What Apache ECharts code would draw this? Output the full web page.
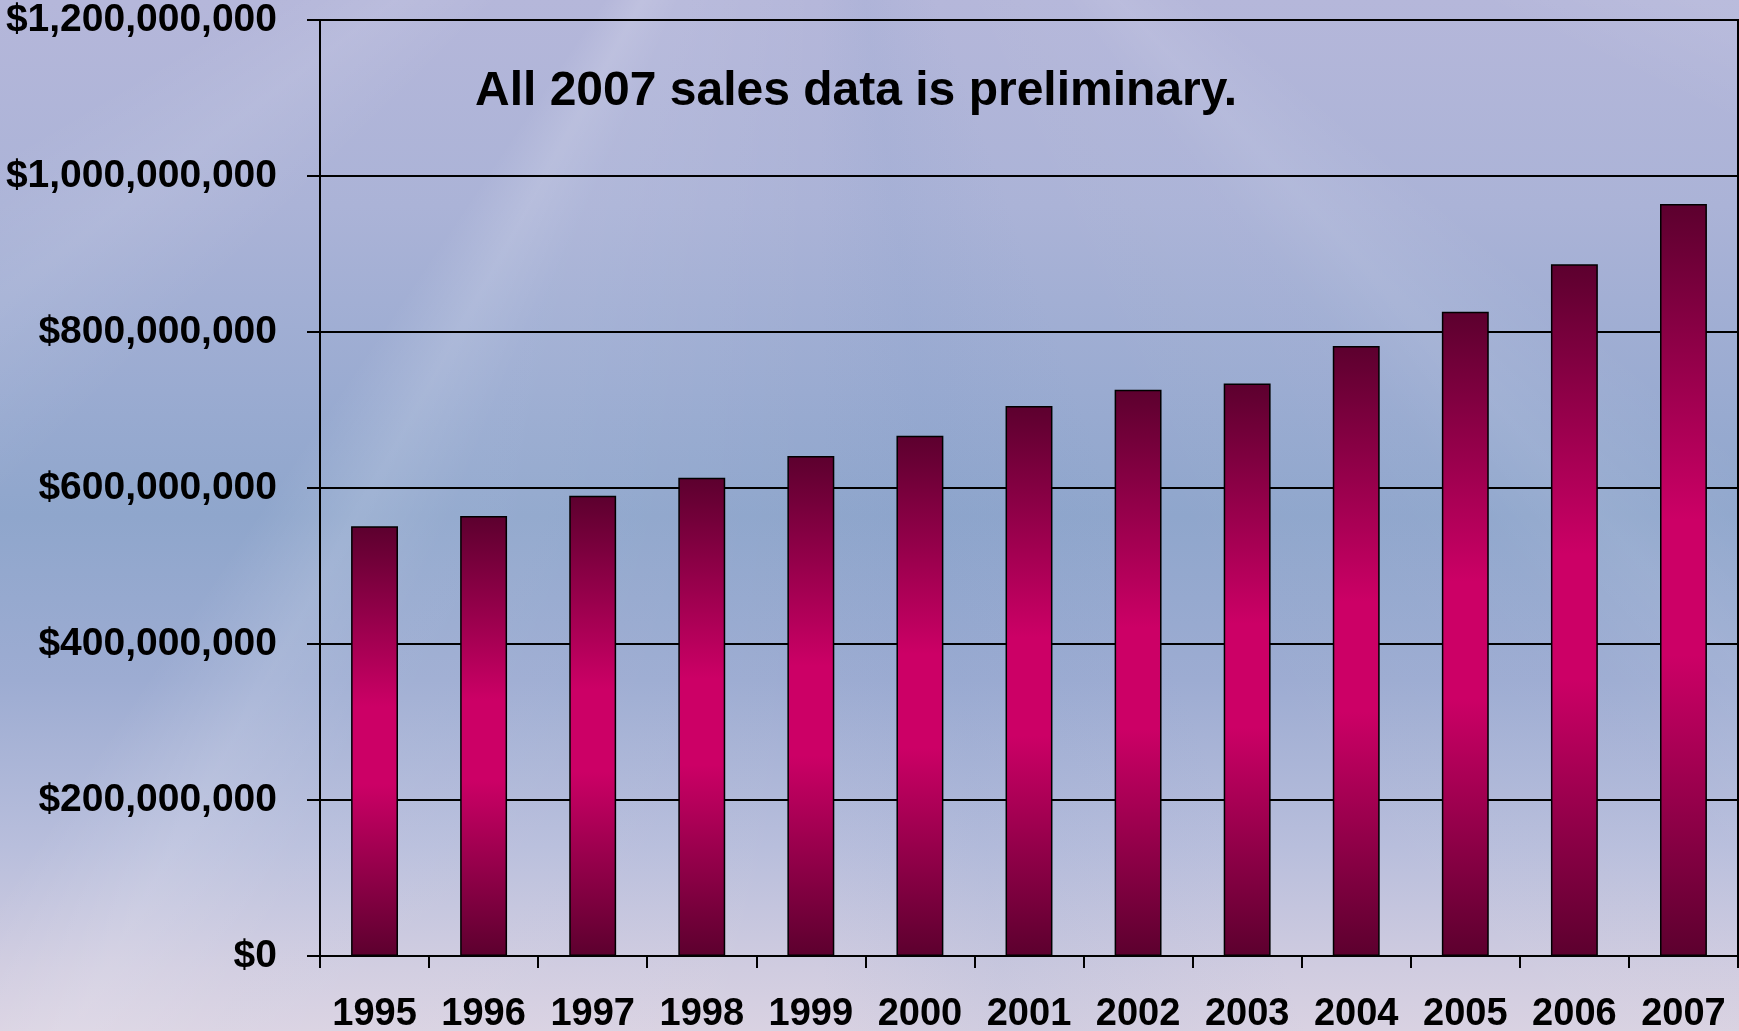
<!DOCTYPE html>
<html>
<head>
<meta charset="utf-8">
<script src="https://cdn.jsdelivr.net/npm/echarts@6/dist/echarts.min.js"></script>
<style>
html, body { margin: 0; padding: 0; width: 1739px; height: 1031px; overflow: hidden; }
#bg {
  position: absolute; left: 0; top: 0; width: 1739px; height: 1031px;
  background:
    conic-gradient(from 90deg at 820px -320px,
      rgba(255,255,255,0) 0deg,
      rgba(255,255,255,0.07) 20deg, rgba(255,255,255,0) 26deg,
      rgba(255,255,255,0) 40deg,
      rgba(255,255,255,0.08) 47deg, rgba(255,255,255,0.02) 52deg,
      rgba(255,255,255,0) 70deg,
      rgba(120,150,200,0.10) 82deg, rgba(120,150,200,0) 90deg,
      rgba(255,255,255,0.06) 114deg, rgba(255,255,255,0.14) 119deg, rgba(255,255,255,0) 124deg,
      rgba(255,255,255,0) 135deg,
      rgba(255,255,255,0.08) 143deg, rgba(255,255,255,0) 150deg,
      rgba(255,255,255,0) 360deg),
    linear-gradient(to bottom,
      #b5b7da 0%, #abb3d7 20%, #9aabd1 38%, #8fa6cc 50%,
      #9dacd2 66%, #b8bedc 82%, #d0cce0 94%, #d9d2e2 100%);
}
#chart { position: absolute; left: 0; top: 0; width: 1739px; height: 1031px; }
</style>
</head>
<body>
<div id="bg"></div>
<div id="chart"></div>
<script>
// ---- data ----
const years = ['1995','1996','1997','1998','1999','2000','2001','2002','2003','2004','2005','2006','2007'];
const sales = [551000000, 564000000, 590000000, 613000000, 641000000, 667000000, 705000000,
               726000000, 734000000, 782000000, 826000000, 887000000, 964000000];
const yTicks = [0, 200000000, 400000000, 600000000, 800000000, 1000000000, 1200000000];
const note = 'All 2007 sales data is preliminary.';

const FONT = '"Liberation Sans", Arial, Helvetica, sans-serif';

const chart = echarts.init(document.getElementById('chart'), null, { renderer: 'canvas' });

chart.setOption({
  backgroundColor: 'transparent',
  animation: false,
  grid: {
    left: 320, right: 1, top: 20, bottom: 75,
    containLabel: false,
    outerBoundsMode: 'none',
    show: true, borderColor: '#000', borderWidth: 2, backgroundColor: 'transparent'
  },
  xAxis: {
    type: 'category',
    data: years,
    axisLine: { show: true, lineStyle: { color: '#000', width: 2 } },
    axisTick: { show: true, length: 12, lineStyle: { color: '#000', width: 2 } },
    axisLabel: {
      color: '#000', fontSize: 38, fontWeight: 'bold', fontFamily: FONT,
      margin: 40, interval: 0
    },
    splitLine: { show: false }
  },
  yAxis: {
    type: 'value',
    min: yTicks[0],
    max: yTicks[yTicks.length - 1],
    interval: yTicks[1] - yTicks[0],
    axisLine: { show: true, lineStyle: { color: '#000', width: 2 } },
    axisTick: { show: true, length: 13, lineStyle: { color: '#000', width: 2 } },
    axisLabel: {
      color: '#000', fontSize: 39, fontWeight: 'bold', fontFamily: FONT, margin: 43,
      formatter: v => '$' + Number(v).toLocaleString('en-US')
    },
    splitLine: { show: true, lineStyle: { color: '#000', width: 2 } }
  },
  graphic: [{
    type: 'text',
    left: 475,
    top: 68,
    style: {
      text: note,
      fill: '#000',
      font: 'bold 48px ' + FONT
    }
  }],
  series: [{
    type: 'bar',
    data: sales,
    barWidth: '43%',
    itemStyle: {
      borderColor: '#000',
      borderWidth: 1.5,
      color: new echarts.graphic.LinearGradient(0, 0, 0, 1, [
        { offset: 0, color: '#5c002e' },
        { offset: 0.42, color: '#cc0066' },
        { offset: 0.6, color: '#cc0066' },
        { offset: 1, color: '#5c002e' }
      ])
    }
  }]
});
</script>
</body>
</html>
